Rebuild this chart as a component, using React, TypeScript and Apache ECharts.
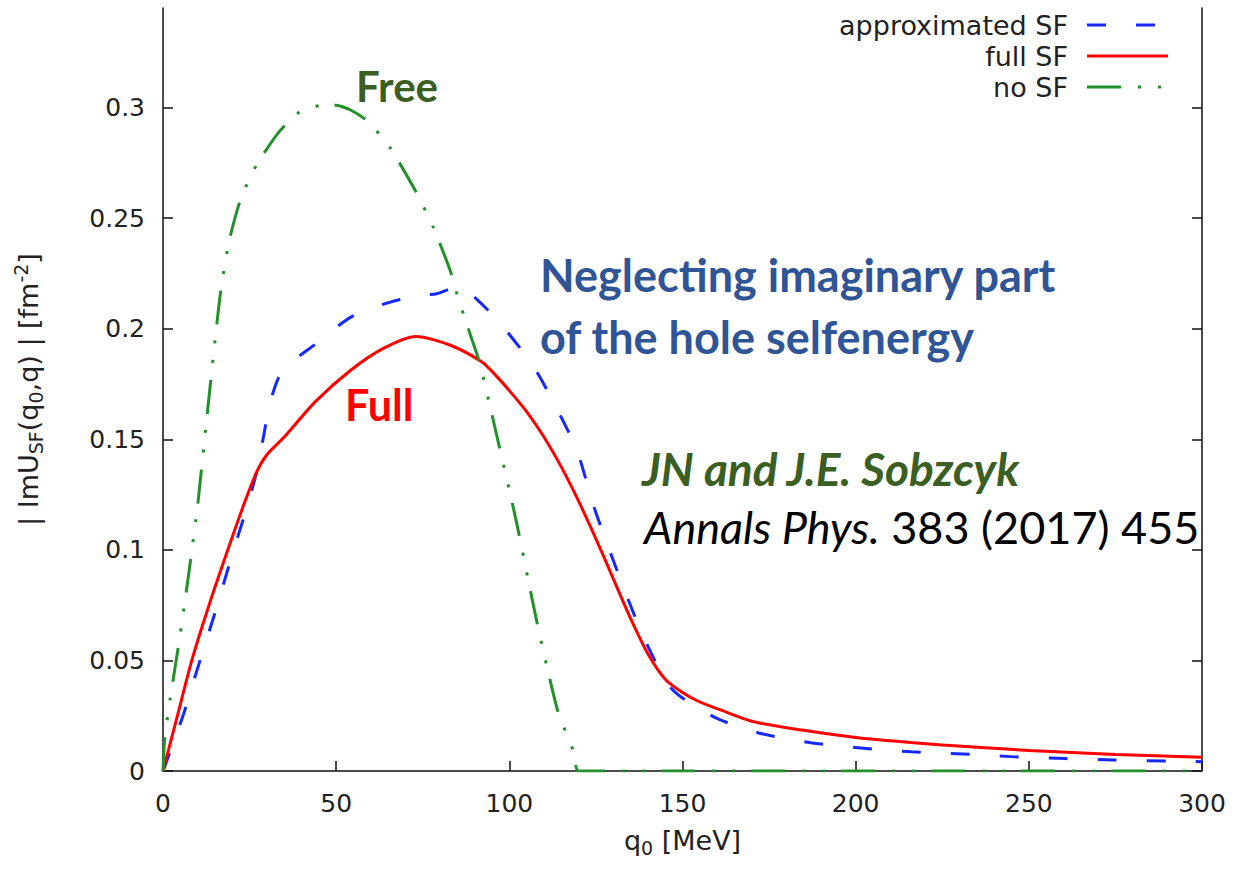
import React, { useEffect, useRef } from "react";
import * as echarts from "echarts";

// q0 grid (MeV) and |Im U| values (fm^-2) for each curve
const approxQ0 = [0, 0.5, 6, 9.5, 15.5, 20, 24, 27, 29, 31, 34.5, 44, 54, 63.5, 73, 79, 85, 88.5, 96.5, 106.5, 112.5, 119.5, 124.3, 129, 134, 139.5, 147, 159, 172, 187, 201.5, 216, 231, 245, 260.5, 274.5, 290, 300];
const approxVal = [0, 0.002, 0.026, 0.044, 0.074, 0.098, 0.118, 0.135, 0.151, 0.167, 0.181, 0.193, 0.205, 0.211, 0.2148, 0.2158, 0.2188, 0.2162, 0.204, 0.184, 0.1675, 0.145, 0.12, 0.0995, 0.0788, 0.058, 0.037, 0.0245, 0.0172, 0.0128, 0.0104, 0.0087, 0.0077, 0.0065, 0.0056, 0.005, 0.0045, 0.0042];

const fullQ0 = [0, 4, 8.5, 13.5, 18.5, 23, 27, 30, 35, 44, 54, 63.5, 73, 83, 92, 96, 100, 105, 110, 115, 120, 125, 130, 135, 140, 145, 150, 155, 161, 170, 184.5, 200, 225, 250, 275, 300];
const fullVal = [0, 0.024, 0.051, 0.076, 0.099, 0.119, 0.135, 0.143, 0.151, 0.167, 0.181, 0.191, 0.1965, 0.1925, 0.185, 0.179, 0.172, 0.1625, 0.151, 0.1375, 0.122, 0.105, 0.087, 0.069, 0.053, 0.0415, 0.0355, 0.0312, 0.0276, 0.0225, 0.0185, 0.0152, 0.0118, 0.0093, 0.0075, 0.0062];

const freeQ0 = [0, 0.5, 2, 5, 7.5, 10, 12, 14.5, 16.5, 19, 22.5, 27, 33.5, 39.5, 46, 50, 54, 59, 65.5, 73, 78, 83, 85, 87.5, 91.5, 97.5, 102, 108, 114, 118.5, 120, 150, 200, 250, 300];
const freeVal = [0, 0.015, 0.032, 0.062, 0.09, 0.12, 0.15, 0.187, 0.215, 0.239, 0.259, 0.274, 0.289, 0.298, 0.301, 0.301, 0.299, 0.294, 0.282, 0.262, 0.246, 0.226, 0.215, 0.203, 0.184, 0.144, 0.113, 0.067, 0.027, 0.009, 0, 0, 0, 0, 0];

const xTicks = [0, 50, 100, 150, 200, 250, 300];
const yTicks = [0, 0.05, 0.1, 0.15, 0.2, 0.25, 0.3];

const seriesNames = ["approximated SF", "full SF", "no SF"];
const seriesColors = ["#1428ff", "#ff0000", "#23902a"];
const blueDash = [19, 30];
const greenDash = [34, 17, 3, 17, 3, 16];

const pairs = (xs: number[], ys: number[]) => xs.map((x, i) => [x, ys[i]]);

const tickFont = "DejaVu Sans";
const noteFont = "Lato";

const subRich = {
  sub: { fontSize: 19, lineHeight: 34, verticalAlign: "bottom", fontFamily: tickFont, color: "#222" },
  sup: { fontSize: 19, lineHeight: 34, verticalAlign: "top", fontFamily: tickFont, color: "#222" },
};

export default function App() {
  const ref = useRef<HTMLDivElement>(null);

  useEffect(() => {
    if (!ref.current) return;
    const chart = echarts.init(ref.current, undefined, { renderer: "svg" });

    const axisColor = "#111";
    const legendRows = [25, 56, 87];
    const legendTextX = 1068;
    const sampleX0 = 1087;
    const sampleX1 = 1168;

    const legendItems: any[] = [];
    seriesNames.forEach((name, i) => {
      legendItems.push({
        type: "text",
        style: {
          text: name,
          x: legendTextX,
          y: legendRows[i],
          align: "right",
          verticalAlign: "middle",
          textAlign: "right",
          textVerticalAlign: "middle",
          fontSize: 27,
          fontFamily: tickFont,
          fill: "#222",
        },
      });
      const dash = i === 0 ? blueDash : i === 2 ? greenDash : null;
      legendItems.push({
        type: "line",
        shape: { x1: sampleX0, y1: legendRows[i], x2: sampleX1, y2: legendRows[i] },
        style: {
          stroke: seriesColors[i],
          lineWidth: 3,
          lineDash: dash || undefined,
        },
      });
    });

    const note = (text: string, x: number, y: number, fill: string, size: number, extra: any = {}) => ({
      type: "text",
      style: {
        text,
        x,
        y,
        verticalAlign: "middle",
        textVerticalAlign: "middle",
        fontSize: size,
        fontFamily: noteFont,
        fontWeight: "bold",
        fill,
        ...extra,
      },
    });

    const option: any = {
      animation: false,
      backgroundColor: "#ffffff",
      grid: { left: 163, right: 35, top: 8, bottom: 98, containLabel: false },
      xAxis: {
        type: "value",
        min: 0,
        max: 300,
        interval: 50,
        name: "q{sub|0} [MeV]",
        nameLocation: "middle",
        nameGap: 52,
        nameTextStyle: { fontSize: 27, fontFamily: tickFont, color: "#222", lineHeight: 34, rich: subRich },
        axisLine: { show: true, onZero: false, lineStyle: { color: axisColor, width: 1.5 } },
        axisTick: { show: true, inside: true, length: 10, customValues: xTicks, lineStyle: { color: axisColor, width: 1.5 } },
        axisLabel: { margin: 20, fontSize: 25, fontFamily: tickFont, color: "#222", customValues: xTicks },
        splitLine: { show: false },
      },
      yAxis: [
        {
          type: "value",
          min: 0,
          max: 0.345,
          position: "left",
          name: "| ImU{sub|SF}(q{sub|0},q) | [fm{sup|-2}]",
          nameLocation: "middle",
          nameRotate: 90,
          nameGap: 118,
          nameTextStyle: { fontSize: 27, fontFamily: tickFont, color: "#222", lineHeight: 34, rich: subRich },
          axisLine: { show: true, onZero: false, lineStyle: { color: axisColor, width: 1.5 } },
          axisTick: { show: true, inside: true, length: 10, customValues: yTicks, lineStyle: { color: axisColor, width: 1.5 } },
          axisLabel: {
            margin: 18,
            fontSize: 25,
            fontFamily: tickFont,
            color: "#222",
            customValues: yTicks,
            formatter: (v: number) => String(+v.toFixed(3)),
          },
          splitLine: { show: false },
        },
        {
          type: "value",
          min: 0,
          max: 0.345,
          position: "right",
          axisLine: { show: true, onZero: false, lineStyle: { color: axisColor, width: 1.5 } },
          axisTick: { show: true, inside: true, length: 10, customValues: yTicks, lineStyle: { color: axisColor, width: 1.5 } },
          axisLabel: { show: false },
          splitLine: { show: false },
        },
      ],
      series: [
        {
          name: seriesNames[0],
          type: "line",
          data: pairs(approxQ0, approxVal),
          showSymbol: false,
          symbol: "none",
          smooth: 0.25,
          lineStyle: { color: seriesColors[0], width: 3, type: blueDash, cap: "butt" },
        },
        {
          name: seriesNames[1],
          type: "line",
          data: pairs(fullQ0, fullVal),
          showSymbol: false,
          symbol: "none",
          smooth: 0.25,
          lineStyle: { color: seriesColors[1], width: 3 },
        },
        {
          name: seriesNames[2],
          type: "line",
          data: pairs(freeQ0, freeVal),
          showSymbol: false,
          symbol: "none",
          smooth: 0.2,
          lineStyle: { color: seriesColors[2], width: 3, type: greenDash, cap: "butt" },
        },
      ],
      graphic: [
        ...legendItems,
        note("Free", 356, 86, "#3b5e22", 42),
        note("Full", 345, 404, "#ff0000", 43),
        note("Neglecting imaginary part", 540, 275, "#2f5597", 45),
        note("of the hole selfenergy", 540, 337, "#2f5597", 45),
        note("JN and J.E. Sobzcyk", 642, 468, "#3b5e22", 46, { fontStyle: "italic" }),
        {
          type: "text",
          style: {
            text: "{i|Annals Phys.} 383 (2017) 455",
            x: 644,
            y: 527,
            verticalAlign: "middle",
            textVerticalAlign: "middle",
            fontSize: 45,
            fontFamily: noteFont,
            fill: "#000",
            rich: { i: { fontStyle: "italic", fontSize: 45, fontFamily: noteFont, fill: "#000", color: "#000" } },
          },
        },
      ],
    };

    chart.setOption(option);
    return () => chart.dispose();
  }, []);

  return (
    <div
      ref={ref}
      style={{ position: "absolute", left: 0, top: 0, width: 1237, height: 869, background: "#fff" }}
    />
  );
}
